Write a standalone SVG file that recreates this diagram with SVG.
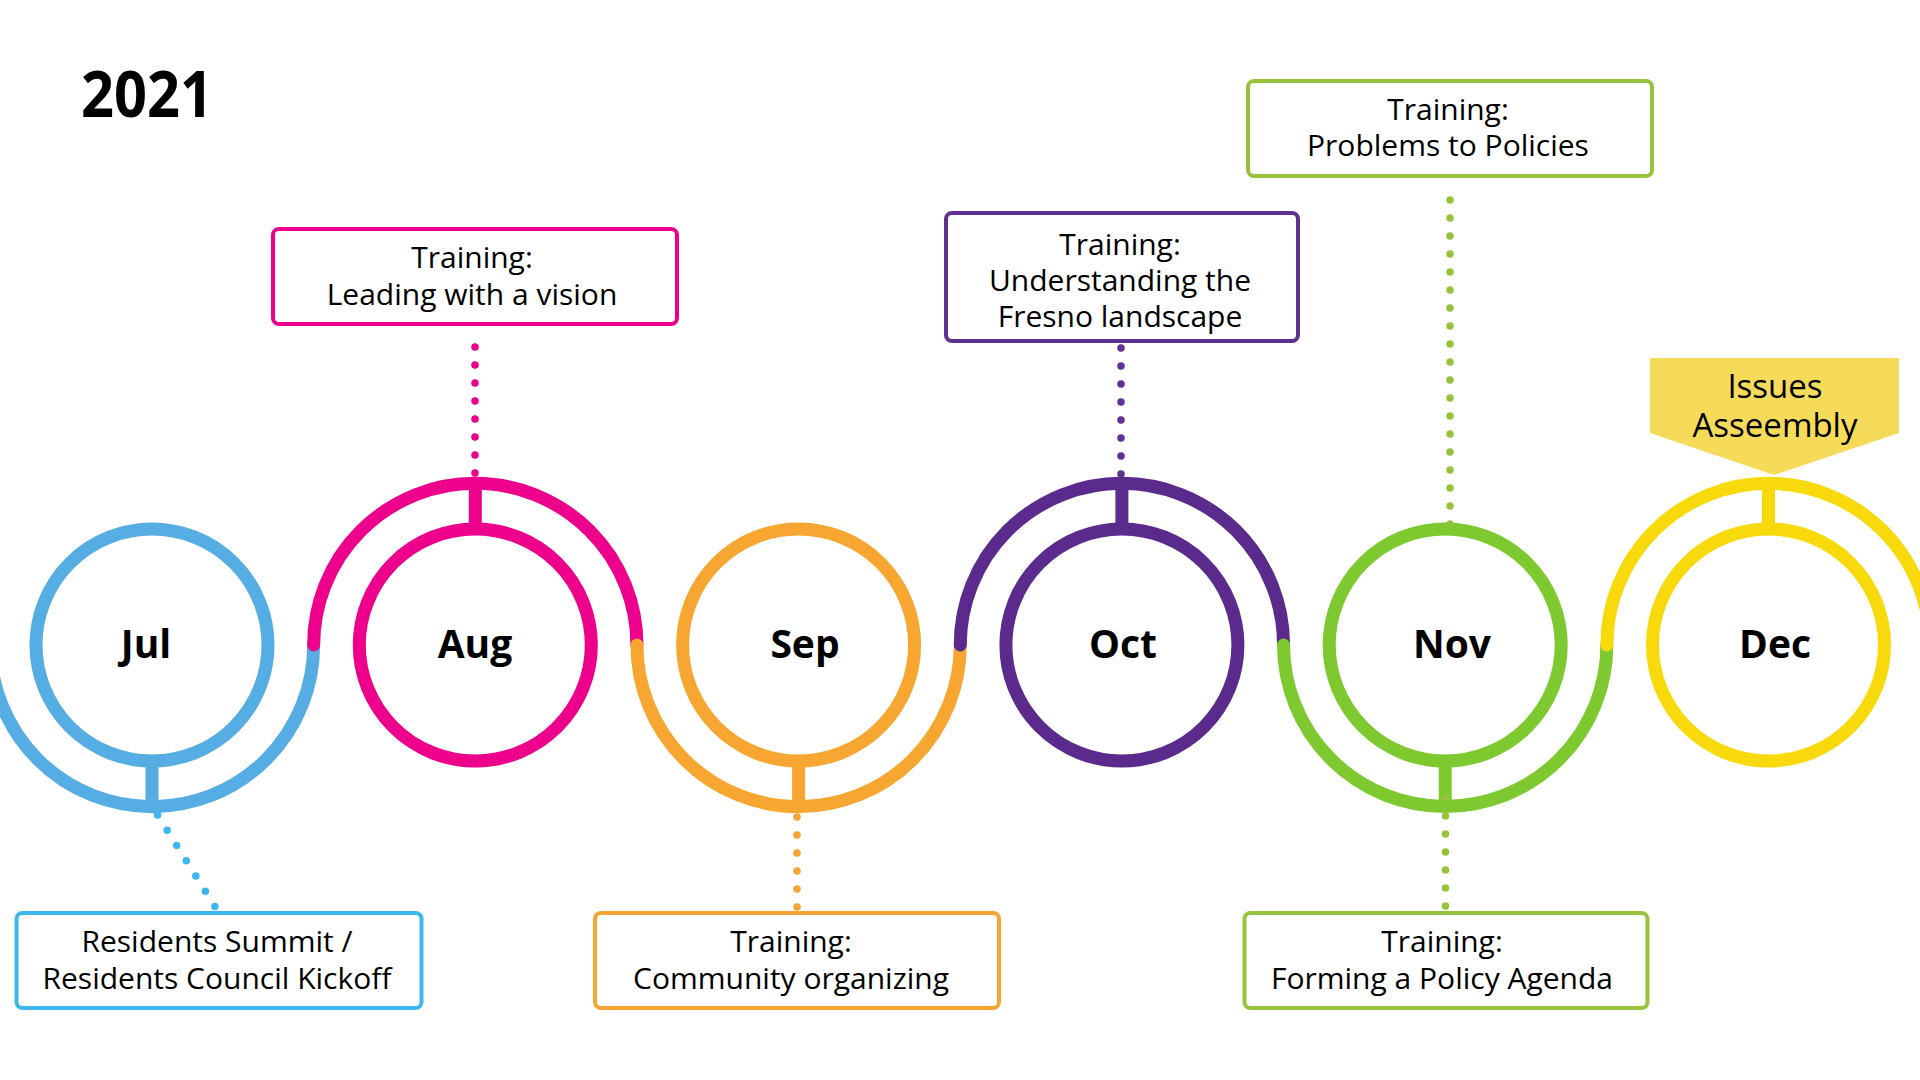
<svg xmlns="http://www.w3.org/2000/svg" width="1920" height="1080" viewBox="0 0 1920 1080">
<style>
.arc{fill:none;stroke-width:13;stroke-linecap:round}
.ring{fill:none;stroke-width:13}
.stem{stroke-width:13;fill:none}
.dots{fill:none;stroke-width:7.5;stroke-linecap:round;stroke-dasharray:0 18}
.box{fill:#fff;stroke-width:4}
.t{font-family:"Open Sans","Noto Sans","Liberation Sans",sans-serif;font-size:30px;fill:#000;text-anchor:middle}
.m{font-family:"Open Sans","Noto Sans","Liberation Sans",sans-serif;font-size:39px;font-weight:bold;fill:#000;text-anchor:middle}
</style>
<rect width="1920" height="1080" fill="#fff"/>
<g id="title"><text x="81" y="117" font-family="'Open Sans','Noto Sans','Liberation Sans',sans-serif" font-size="65" font-weight="bold" textLength="132" lengthAdjust="spacingAndGlyphs">2021</text></g>
<g id="connectors">
<g id="timeline">
<path class="arc" stroke="#56ADE3" d="M -9.65 645 A 161.65 161.65 0 0 0 313.65 645"/>
<path class="arc" stroke="#EC008C" d="M 313.65 645 A 161.65 161.65 0 0 1 636.95 645"/>
<path class="arc" stroke="#F7A731" d="M 636.95 645 A 161.65 161.65 0 0 0 960.25 645"/>
<path class="arc" stroke="#5A2A8C" d="M 960.25 645 A 161.65 161.65 0 0 1 1283.55 645"/>
<path class="arc" stroke="#7DC92F" d="M 1283.55 645 A 161.65 161.65 0 0 0 1606.85 645"/>
<path class="arc" stroke="#F8DA0C" d="M 1606.85 645 A 161.65 161.65 0 0 1 1930.15 645"/>
</g>
<g id="stems">
<line class="stem" stroke="#56ADE3" x1="152" y1="760" x2="152" y2="807"/>
<line class="stem" stroke="#EC008C" x1="475.3" y1="530" x2="475.3" y2="483"/>
<line class="stem" stroke="#F7A731" x1="798.6" y1="760" x2="798.6" y2="807"/>
<line class="stem" stroke="#5A2A8C" x1="1121.9" y1="530" x2="1121.9" y2="483"/>
<line class="stem" stroke="#7DC92F" x1="1445.2" y1="760" x2="1445.2" y2="807"/>
<line class="stem" stroke="#F8DA0C" x1="1768.5" y1="530" x2="1768.5" y2="483"/>
</g>
</g>
<g id="month-jul"><circle class="ring" stroke="#56ADE3" cx="152" cy="645" r="116"/><text class="m" x="146" y="658">Jul</text></g>
<g id="month-aug"><circle class="ring" stroke="#EC008C" cx="475.3" cy="645" r="116"/><text class="m" x="475" y="658">Aug</text></g>
<g id="month-sep"><circle class="ring" stroke="#F7A731" cx="798.6" cy="645" r="116"/><text class="m" x="805" y="658">Sep</text></g>
<g id="month-oct"><circle class="ring" stroke="#5A2A8C" cx="1121.9" cy="645" r="116"/><text class="m" x="1123" y="658">Oct</text></g>
<g id="month-nov"><circle class="ring" stroke="#7DC92F" cx="1445.2" cy="645" r="116"/><text class="m" x="1452" y="658">Nov</text></g>
<g id="month-dec"><circle class="ring" stroke="#F8DA0C" cx="1768.5" cy="645" r="116"/><text class="m" x="1775" y="658">Dec</text></g>
<g id="box-jul"><rect class="box" stroke="#3CB8EE" x="16.5" y="913" width="405" height="95" rx="6"/><text class="t" x="217" y="952">Residents Summit /</text><text class="t" x="217" y="989">Residents Council Kickoff</text></g>
<g id="box-aug"><rect class="box" stroke="#EC008C" x="273" y="229" width="404" height="95" rx="6"/><text class="t" x="472" y="268">Training:</text><text class="t" x="472" y="305">Leading with a vision</text></g>
<g id="box-sep"><rect class="box" stroke="#F4A533" x="595" y="913" width="404" height="95" rx="6"/><text class="t" x="791" y="952">Training:</text><text class="t" x="791" y="989">Community organizing</text></g>
<g id="box-oct"><rect class="box" stroke="#5E3092" x="946" y="213" width="352" height="128" rx="6"/><text class="t" x="1120" y="255">Training:</text><text class="t" x="1120" y="291">Understanding the</text><text class="t" x="1120" y="327">Fresno landscape</text></g>
<g id="box-nov-top"><rect class="box" stroke="#97C23C" x="1248" y="81" width="404" height="95" rx="6"/><text class="t" x="1448" y="120">Training:</text><text class="t" x="1448" y="156">Problems to Policies</text></g>
<g id="box-nov-bottom"><rect class="box" stroke="#97C23C" x="1244.5" y="913" width="403" height="95" rx="6"/><text class="t" x="1442" y="952">Training:</text><text class="t" x="1442" y="989">Forming a Policy Agenda</text></g>
<g id="box-dec"><polygon fill="#F6DB5B" points="1650,358 1899,358 1899,433 1774,475 1650,433"/><text class="t" x="1775" y="398" style="font-size:33px">Issues</text><text class="t" x="1775" y="437" style="font-size:33px">Asseembly</text></g>
<g id="dotted-connectors">
<line class="dots" stroke="#3CB8EE" x1="157.6" y1="815" x2="215.5" y2="907.5"/>
<line class="dots" stroke="#EC008C" x1="475" y1="347" x2="475" y2="474.5"/>
<line class="dots" stroke="#F4A533" x1="797" y1="817" x2="797" y2="908.5"/>
<line class="dots" stroke="#5E3092" x1="1121" y1="348" x2="1121" y2="475.5"/>
<line class="dots" stroke="#97C23C" x1="1450" y1="200" x2="1450" y2="525.5"/>
<line class="dots" stroke="#97C23C" x1="1445.5" y1="798" x2="1445.5" y2="907.5"/>
</g>
</svg>
